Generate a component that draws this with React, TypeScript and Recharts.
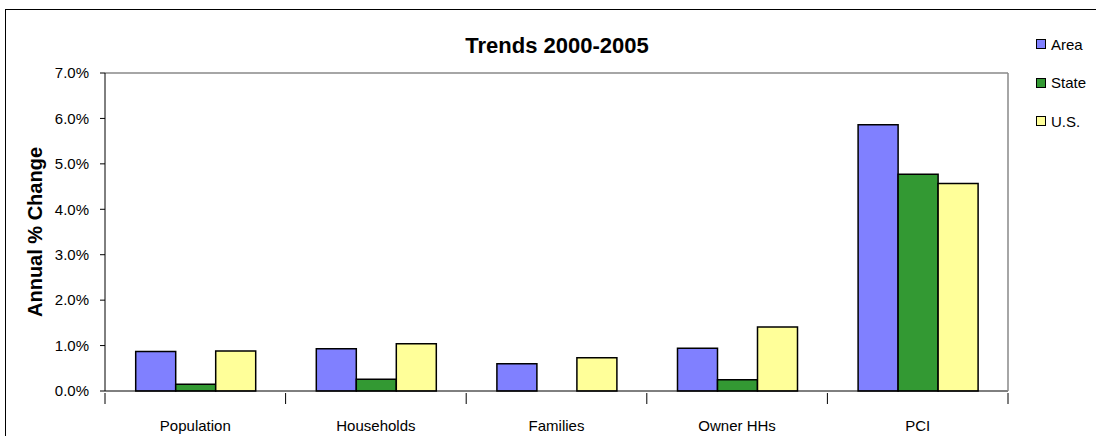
import React from 'react';
import { BarChart, Bar, XAxis, YAxis, Legend } from 'recharts';

const categories = ['Population', 'Households', 'Families', 'Owner HHs', 'PCI'];
const areaValues = [0.0087, 0.0093, 0.006, 0.0094, 0.0586];
const stateValues = [0.0015, 0.0026, 0, 0.0025, 0.0477];
const usValues = [0.0088, 0.0104, 0.0073, 0.0141, 0.0457];
const yTicks = [0, 0.01, 0.02, 0.03, 0.04, 0.05, 0.06, 0.07];

const series = [
  { key: 'Area', color: '#8080FF' },
  { key: 'State', color: '#339933' },
  { key: 'U.S.', color: '#FFFF99' },
];

const chartData = categories.map((name, i) => ({
  name,
  Area: areaValues[i],
  State: stateValues[i],
  'U.S.': usValues[i],
}));

const FONT = '"Liberation Sans", Arial, sans-serif';
const W = 1096;
const H = 436;
const LEFT = 105;
const RIGHT = 87;
const TOP = 72;
const BOTTOM = 45;
const BAND = (W - LEFT - RIGHT - 1) / categories.length;

// category label centred, tick marks on the category boundaries
const CategoryTick = (props: any) => {
  const { x, y, payload, index } = props;
  const half = BAND / 2;
  return (
    <g>
      <line x1={x - half} x2={x - half} y1={y - 6} y2={y + 5} stroke="#000" strokeWidth={1} />
      {index === categories.length - 1 && (
        <line x1={x + half} x2={x + half} y1={y - 6} y2={y + 5} stroke="#000" strokeWidth={1} />
      )}
      <text x={x} y={y + 32} textAnchor="middle" fontSize={15} fontFamily={FONT} fill="#000">
        {payload.value}
      </text>
    </g>
  );
};

const LegendBox = () => (
  <div style={{ fontFamily: FONT, fontSize: 15, color: '#000', width: 60 }}>
    {series.map((s) => (
      <div key={s.key} style={{ display: 'flex', alignItems: 'center', height: 38.5 }}>
        <span
          style={{
            display: 'inline-block',
            flexShrink: 0,
            width: 8,
            height: 8,
            border: '1.5px solid #000',
            background: s.color,
            marginRight: 5,
          }}
        />
        <span>{s.key}</span>
      </div>
    ))}
  </div>
);

export default function App() {
  return (
    <div style={{ position: 'absolute', left: 0, top: 0, width: W, height: H, background: '#fff' }}>
      <div style={{ position: 'absolute', left: 5, top: 9, width: W - 5, height: H - 9, borderLeft: '1.5px solid #000', borderTop: '1.5px solid #000' }} />
      <div
        style={{
          position: 'absolute',
          left: 0,
          width: 1114,
          top: 33,
          textAlign: 'center',
          fontFamily: FONT,
          fontWeight: 'bold',
          fontSize: 22,
        }}
      >
        Trends 2000-2005
      </div>
      <BarChart
        width={W}
        height={H}
        data={chartData}
        margin={{ top: TOP, right: RIGHT, bottom: 0, left: 0 }}
        barCategoryGap="17%"
        barGap={0}
      >
        <XAxis
          dataKey="name"
          height={BOTTOM}
          axisLine={{ stroke: '#000', strokeWidth: 1 }}
          tickLine={false}
          tick={<CategoryTick />}
          interval={0}
        />
        <XAxis xAxisId="top" dataKey="name" orientation="top" height={1} tick={false} tickLine={false} axisLine={{ stroke: '#888', strokeWidth: 1.5 }} />
        <YAxis
          domain={[0, 0.07]}
          ticks={yTicks}
          width={LEFT}
          interval={0}
          tickFormatter={(v: number) => `${(v * 100).toFixed(1)}%`}
          tick={{ fontSize: 15, fontFamily: FONT, fill: '#000' }}
          tickSize={5}
          tickMargin={11}
          axisLine={{ stroke: '#000', strokeWidth: 1 }}
          tickLine={{ stroke: '#000' }}
          label={{
            value: 'Annual % Change',
            angle: -90,
            position: 'center',
            dx: -18,
            fontSize: 20,
            fontWeight: 'bold',
            fontFamily: FONT,
            fill: '#000',
          }}
        />
        <YAxis yAxisId="right" orientation="right" width={1} tick={false} tickLine={false} axisLine={{ stroke: '#888', strokeWidth: 1.5 }} />
        <Legend
          layout="horizontal"
          verticalAlign="top"
          align="left"
          content={<LegendBox />}
          wrapperStyle={{ position: 'absolute', left: 1036, top: 25, width: 0, height: 0, overflow: 'visible', whiteSpace: 'nowrap' }}
        />
        {series.map((s) => (
          <Bar
            key={s.key}
            dataKey={s.key}
            fill={s.color}
            stroke="#000"
            strokeWidth={1.5}
            isAnimationActive={false}
          />
        ))}
      </BarChart>
    </div>
  );
}
